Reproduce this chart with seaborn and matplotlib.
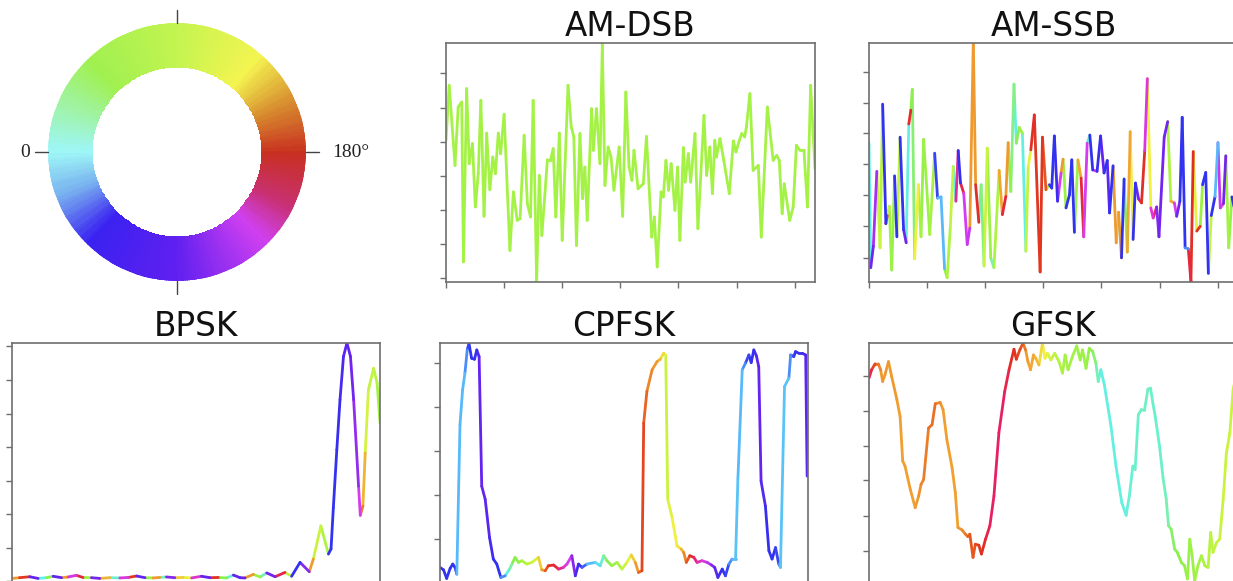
import numpy as np
import pandas as pd
import matplotlib
matplotlib.use("Agg")
import matplotlib.pyplot as plt
import seaborn as sns
from matplotlib.colors import LinearSegmentedColormap

# amplitude, 0 = bottom of panel, 100 = top; t = sample index (0..127)
# phase = colour of the segment leaving each point, in degrees on the wheel

AM_DSB_T = [0, 1.1, 3.1, 4.2, 5.4, 6, 7.1, 8, 9.1, 10.1, 11.1, 12, 13.1, 14, 15.1, 16.1, 17, 18, 18.8, 20,
            22, 23.2, 24.5, 25.5, 26.9, 28, 29.1, 30, 31.2, 32.1, 33, 34.9, 36, 36.9, 37.8, 39, 40, 42, 43.1, 44,
            44.9, 46.1, 47, 47.8, 48.6, 50.1, 50.7, 51.8, 53, 53.8, 54.7, 55.8, 56.8, 57.8, 59.6, 60.8, 61.9, 63, 64, 64.7,
            66.1, 67.9, 69, 70.8, 71.7, 72.7, 74, 74.8, 75.7, 76.6, 77.5, 78.8, 79.7, 80.5, 81.7, 82.3, 83.4, 84.2, 85.7, 86.7,
            88.8, 89.7, 90.8, 91.7, 92.5, 93.1, 94.3, 95.6, 97.5, 98.9, 99.8, 100.9, 101.8, 102.8, 103.4, 104.6, 105.7, 107.5, 108.5, 110.6,
            112.6, 113.8, 114.7, 115.7, 116.4, 118.3, 119.5, 120.6, 121.8, 123.2, 124.4, 125.5, 127]
AM_DSB_AMP = [59.3, 82.3, 48.8, 73.2, 75.3, 8.4, 80.9, 49.5, 57.9, 31.4, 45.3, 76, 27.5, 62.3, 38.6, 52.3, 45.3, 62.3, 53.7, 70.2,
              13.2, 37.7, 25.8, 26.5, 61.4, 32.8, 27.2, 76, 0, 44.6, 19.5, 51.2, 51.2, 55.8, 27.2, 62.3, 17.4, 82.3, 64.9, 60.7,
              15.3, 62.1, 34.9, 48.1, 25.8, 72.5, 55.1, 72.5, 49.5, 99.7, 40.4, 56.5, 52.3, 38.4, 56.5, 27.5, 79.5, 48.1, 42.5, 55.1,
              39, 41.1, 60.9, 18.8, 27.2, 6.3, 37.7, 35.6, 50.9, 38.4, 49.5, 30, 48.1, 17.4, 56.2, 41.8, 53.7, 41.8, 62.1, 22.3,
              69.7, 44.6, 56.5, 37, 59.3, 52.3, 60, 50.9, 37, 59, 54.4, 59, 62.1, 60.7, 64.9, 78.8, 46.7, 48.8, 18.8, 73.2,
              50.9, 53, 50.9, 28.6, 41.1, 25.8, 31.4, 57.2, 55.1, 55.1, 31.4, 82.3, 47.4]
AM_DSB_PHASE = 74

AM_SSB_T = [0, 0.6, 1.5, 2.7, 3.8, 4.7, 5.8, 6.3, 7.0, 7.8, 8.8, 9.6, 10.7, 11.9, 12.8, 13.7, 14.4, 14.9, 15.7, 17.0,
            17.9, 18.8, 20.9, 22.6, 23.6, 24.8, 26.0, 26.9, 28.0, 29.0, 29.9, 30.7, 31.5, 32.6, 33.8, 34.7, 35.9, 36.7, 37.8, 38.6,
            39.6, 40.7, 41.9, 43.0, 44.8, 45.9, 47.1, 47.9, 48.8, 49.9, 50.7, 51.7, 52.8, 54.0, 54.8, 55.7, 56.9, 58.9, 59.7, 60.9,
            62.1, 62.9, 63.8, 64.9, 66.1, 66.8, 67.8, 69.0, 69.8, 70.7, 71.9, 73.0, 73.9, 75.1, 76.0, 77.0, 78.5, 79.7, 80.9, 82.0,
            82.8, 84.0, 85.1, 85.9, 86.9, 87.8, 88.9, 89.9, 90.9, 91.7, 92.8, 93.8, 94.9, 95.8, 97.0, 97.8, 99.0, 99.8, 101.6, 102.8,
            103.9, 105.1, 105.9, 107.0, 107.8, 108.8, 109.9, 110.8, 111.6, 112.8, 114.0, 114.8, 115.9, 116.8, 117.8, 119.1, 120.1, 120.9, 122.0, 122.8,
            123.8, 124.9, 125.8, 127]
AM_SSB_AMP = [58.1, 6.0, 15.0, 46.3, 14.3, 74.4, 24.4, 27.8, 31.7, 5.0, 44.4, 18.9, 60.6, 21.9, 16.4, 66.1, 71.9, 80.6, 9.7, 40.7,
              18.9, 59.7, 19.9, 53.9, 35.1, 35.6, 5.6, 1.8, 23.3, 48.3, 33.8, 55.0, 41.4, 37.2, 15.7, 22.6, 101, 40.7, 25.0, 40.7,
              6.7, 56.0, 10.1, 6.0, 46.7, 28.2, 35.8, 58.3, 37.9, 82.8, 58.1, 64.7, 62.2, 12.9, 48.3, 55.3, 69.9, 4.2, 60.6, 38.6,
              40.7, 39.3, 61.1, 33.8, 45.6, 51.4, 31.0, 36.5, 51.1, 20.8, 51.1, 43.5, 18.9, 58.1, 61.5, 46.9, 46.3, 61.1, 45.6, 50.8,
              28.9, 48.6, 16.4, 29.2, 10.1, 43.1, 12.5, 62.9, 17.8, 41.4, 34.7, 33.1, 55.0, 85.1, 31.0, 26.8, 31.4, 18.9, 60.6, 67.1,
              33.8, 33.1, 27.5, 33.8, 68.9, 14.3, 13.9, 0, 54.6, 21.3, 23.3, 40.7, 45.8, 3.6, 27.8, 35.8, 58.3, 31.0, 32.8, 52.8,
              14.3, 35.6, 30.6, 45]
AM_SSB_PHASE = [0, 265, 250, 95, 85, 300, 180, 90, 70, 65, 300, 90, 300, 265, 5, 185, 60, 45, 115, 75,
                65, 70, 75, 305, 330, 330, 60, 80, 90, 5, 215, 295, 195, 235, 240, 150, 150, 185, 10, 45,
                95, 70, 20, 80, 145, 190, 150, 65, 40, 5, 55, 70, 5, 90, 110, 185, 180, 180, 170, 75,
                300, 300, 295, 235, 150, 70, 300, 300, 300, 70, 145, 190, 235, 10, 300, 240, 295, 270, 300, 275,
                300, 150, 5, 150, 300, 55, 145, 115, 300, 265, 185, 185, 230, 115, 230, 205, 260, 265, 265, 80,
                145, 235, 265, 300, 300, 320, 190, 185, 110, 180, 70, 300, 300, 90, 300, 330, 240, 230, 265, 75,
                65, 300, 70, 70]

BPSK_T = [0, 2.6, 6.1, 9.0, 11.9, 14.2, 17.1, 19.4, 22.2, 24.5, 27.4, 30.3, 33.8, 37.2, 40.1, 43.0, 45.9, 48.7, 51.0, 53.3,
          56.2, 59.1, 62.0, 65.4, 68.3, 71.2, 74.1, 76.4, 78.7, 80.4, 83.3, 85.6, 87.9, 90.8, 94.2, 96.5, 99.4, 102.6, 104.0, 106.6,
          109.2, 110.1, 110.9, 112.1, 113.2, 114.4, 115.6, 116.8, 117.9, 119.6, 120.2, 121.1, 121.9, 123.0, 124.8, 126.0, 127]
BPSK_AMP = [1.5, 1.8, 2.2, 1.5, 1.8, 2.4, 1.8, 2.1, 2.8, 1.9, 1.8, 1.5, 1.8, 1.7, 1.9, 2.5, 1.8, 1.7, 1.9, 2.1,
            1.8, 1.9, 1.7, 2.4, 1.8, 1.9, 1.7, 2.9, 1.8, 1.7, 3.2, 2.1, 3.8, 2.2, 4.0, 2.4, 8.2, 4.3, 9.6, 23.5,
            11.7, 13.8, 31.1, 55.4, 76.3, 94.4, 100, 94.4, 76.3, 40.1, 27.9, 31.8, 54.0, 80.4, 89.4, 83.2, 66.5]
BPSK_PHASE = [150, 180, 270, 0, 60, 270, 150, 230, 190, 70, 265, 140, 10, 230, 180, 270, 70, 150, 20, 260,
              130, 110, 225, 270, 185, 60, 10, 270, 270, 150, 70, 20, 265, 195, 90, 300, 260, 150, 95, 80,
              300, 300, 300, 295, 285, 275, 270, 265, 255, 235, 160, 140, 100, 90, 85, 75, 75]

CPFSK_T = [0, 1.2, 2.3, 3.5, 4.4, 5.2, 5.8, 6.9, 7.8, 8.6, 9.4, 10.0, 10.9, 11.9, 12.7, 13.5, 14.4, 15.6, 17.1, 18.4,
           19.6, 21.0, 22.5, 24.0, 25.1, 25.9, 27.1, 28.2, 30.0, 31.7, 34.0, 35.1, 36.3, 37.4, 39.2, 40.9, 42.6, 43.8, 45.5, 46.7,
           47.8, 49.0, 50.7, 53.6, 55.3, 56.5, 57.6, 59.3, 61.1, 62.8, 64.5, 66.0, 67.4, 68.5, 69.7, 70.3, 71.4, 73.2, 74.9, 76.0,
           77.2, 77.9, 78.6, 80.1, 81.8, 83.2, 84.1, 85.0, 86.2, 87.6, 88.7, 90.4, 92.2, 93.7, 94.8, 95.9, 97.4, 98.5, 99.7, 100.8,
           102.0, 102.8, 104.3, 105.4, 106.6, 107.4, 108.3, 109.2, 110.0, 110.8, 112.3, 113.5, 114.6, 115.8, 116.9, 117.5, 118.9, 120.4, 121.0, 122.1,
           122.7, 123.8, 125.0, 126.2, 126.7]
CPFSK_AMP = [6.1, 5.1, 1.5, 5.7, 7.5, 6.1, 3.3, 65.8, 80.4, 87.4, 97.1, 99.9, 93.6, 93.2, 97.1, 94.3, 40.1, 34.6, 18.6, 9.6,
             7.5, 1.9, 2.6, 5.4, 8.2, 10.3, 8.2, 8.9, 7.5, 8.2, 10.3, 5.1, 4.7, 6.8, 7.1, 5.4, 6.1, 7.5, 11.0, 2.6,
             7.5, 6.1, 7.5, 8.2, 6.8, 11.0, 8.9, 6.8, 8.2, 5.4, 8.2, 11.3, 8.2, 4.0, 4.7, 66.5, 79.7, 88.8, 92.2, 93.2,
             95.7, 95.0, 34.6, 26.9, 15.1, 13.8, 12.4, 8.2, 11.0, 10.3, 8.2, 8.9, 8.2, 7.1, 6.1, 1.9, 5.4, 2.6, 7.5, 9.6,
             9.6, 42.9, 88.8, 91.5, 95.0, 91.8, 97.1, 94.6, 90.1, 42.2, 31.8, 13.1, 9.6, 14.4, 7.5, 6.1, 81.8, 85.3, 95.0, 94.3,
             96.4, 95.7, 95.7, 95.0, 44.3]
CPFSK_PHASE = [300, 300, 300, 300, 300, 300, 330, 330, 330, 320, 305, 300, 300, 295, 285, 270, 270, 275, 290, 300,
               300, 320, 0, 30, 60, 60, 70, 80, 90, 100, 130, 150, 170, 185, 190, 210, 225, 235, 260, 285,
               295, 310, 330, 350, 10, 40, 60, 70, 80, 95, 110, 130, 150, 165, 175, 165, 155, 150, 140, 125,
               110, 95, 105, 115, 120, 140, 155, 170, 185, 205, 220, 230, 245, 260, 275, 290, 300, 305, 320, 330,
               335, 330, 320, 305, 300, 295, 285, 275, 270, 280, 295, 300, 300, 305, 320, 335, 335, 320, 305, 300,
               295, 290, 285, 275, 275]

GFSK_T = [0, 0.9, 2.1, 3.2, 4.0, 4.7, 5.5, 6.7, 7.8, 9.6, 10.7, 11.6, 12.4, 14.2, 15.9, 17.1, 17.9, 18.8, 20.5, 21.7,
          22.8, 24.5, 25.5, 26.8, 28.6, 29.7, 30.6, 32.0, 33.2, 34.0, 34.7, 35.8, 36.6, 37.8, 38.7, 40.1, 41.6, 43.0, 44.7, 46.7,
          48.2, 49.9, 50.7, 52.0, 53.0, 53.9, 54.7, 55.6, 56.6, 57.4, 58.5, 59.7, 60.6, 61.4, 62.6, 63.9, 65.4, 66.6, 67.5, 68.5,
          70.0, 71.5, 72.7, 73.5, 74.7, 75.8, 77.0, 78.1, 78.9, 79.8, 81.0, 83.3, 85.0, 87.0, 88.5, 89.6, 90.8, 91.6, 92.7, 93.7,
          94.8, 96.0, 96.9, 97.7, 98.5, 100.0, 101.2, 102.3, 103.1, 104.0, 105.2, 106.1, 107.5, 108.6, 109.6, 110.4, 111.2, 112.1, 113.2, 114.4,
          115.6, 116.7, 117.6, 118.4, 119.6, 120.7, 121.9, 123.0, 124.2, 125.3, 127.5]
GFSK_AMP = [85.3, 88.8, 91.3, 91.3, 88.8, 83.9, 86.7, 92.2, 86.0, 76.3, 69.3, 50.6, 48.5, 38.8, 31.1, 36.0, 40.8, 42.9, 64.4, 65.8,
            74.6, 75.1, 72.1, 59.6, 47.8, 37.4, 22.8, 21.8, 20.0, 19.0, 20.0, 10.3, 15.8, 15.4, 11.7, 17.9, 23.5, 36.0, 62.4, 79.7,
            88.8, 97.4, 93.2, 97.4, 99.9, 97.1, 92.2, 88.8, 95.0, 93.6, 90.8, 99.9, 93.6, 95.7, 92.9, 95.7, 92.2, 87.4, 95.0, 88.8,
            94.3, 98.8, 92.9, 97.1, 89.4, 97.8, 96.4, 91.5, 83.9, 88.8, 82.5, 65.1, 48.5, 33.2, 27.9, 36.0, 48.5, 47.1, 70.0, 72.1,
            71.8, 80.7, 81.1, 74.9, 69.3, 56.8, 43.6, 34.6, 23.5, 22.1, 13.8, 12.4, 8.2, 6.8, 1.3, 17.9, 11.0, 0.6, 6.8, 11.0,
            6.8, 6.1, 20.7, 12.4, 16.5, 17.9, 34.6, 54.0, 62.4, 80.4, 94.3]
GFSK_PHASE = [195, 175, 160, 155, 150, 150, 150, 150, 150, 148, 148, 148, 148, 148, 150, 152, 155, 158, 162, 162,
              155, 150, 148, 148, 148, 148, 150, 155, 160, 165, 170, 170, 175, 180, 185, 195, 200, 200, 200, 195,
              185, 180, 175, 170, 160, 150, 145, 145, 140, 135, 125, 115, 110, 100, 90, 85, 80, 75, 75, 75,
              72, 70, 70, 70, 65, 60, 45, 20, 5, 5, 5, 5, 5, 5, 8, 10, 12, 14, 15, 16,
              16, 15, 14, 12, 12, 14, 18, 25, 40, 50, 55, 60, 62, 65, 68, 70, 70, 72, 75, 78,
              80, 85, 88, 90, 92, 95, 95, 95, 95, 95, 95]

# phase -> colour for the traces
LINE_STOPS = [0, 30, 60, 85, 115, 148, 168, 183, 200, 235, 268, 300, 330, 360]
LINE_COLORS = ["#5ef0ea", "#80f0a0", "#8cf04a", "#b8f440", "#f0f040", "#f0a030", "#e85a20",
               "#e03020", "#e82060", "#d83cf0", "#6a22f0", "#3030f0", "#58b8fa", "#5ef0ea"]
# phase -> colour for the key wheel (paler, as printed)
WHEEL_STOPS = [0, 45, 90, 130, 155, 180, 205, 225, 270, 315, 340, 360]
WHEEL_COLORS = ["#9ef6f6", "#a0f050", "#c4f450", "#f4f450", "#d89030", "#c83020",
                "#c83070", "#d040f0", "#6020f0", "#3a22f0", "#78b0f0", "#9ef6f6"]

line_cmap = LinearSegmentedColormap.from_list(
    "phase", list(zip(np.array(LINE_STOPS) / 360.0, LINE_COLORS)))
wheel_cmap = LinearSegmentedColormap.from_list(
    "wheel", list(zip(np.array(WHEEL_STOPS) / 360.0, WHEEL_COLORS)))

sns.set_style("white")
plt.rcParams["font.family"] = ["DejaVu Sans"]

SPINE = "#6e6e6e"
W, H = 1233, 581


def px_rect(left, top, width, height):
    return [left / W, 1 - (top + height) / H, width / W, height / H]


def to_segments(ts, amps, phases):
    rows = []
    for i in range(len(ts) - 1):
        rows.append((i, ts[i], amps[i], phases[i]))
        rows.append((i, ts[i + 1], amps[i + 1], phases[i]))
    return pd.DataFrame(rows, columns=["seg", "t", "amp", "phase"])


def draw_panel(fig, rect, title, ts, amps, phases, yticks):
    ax = fig.add_axes(rect)
    df = to_segments(ts, amps, phases)
    sns.lineplot(data=df, x="t", y="amp", hue="phase", units="seg", estimator=None,
                 palette=line_cmap, hue_norm=(0, 360), legend=False, sort=False,
                 linewidth=2.0, solid_capstyle="round", ax=ax)
    ax.set_xlim(0, 127)
    ax.set_ylim(0, 100)
    ax.set_xticks(range(0, 127, 20))
    ax.set_yticks(yticks)
    ax.set_xticklabels([])
    ax.set_yticklabels([])
    ax.set_xlabel("")
    ax.set_ylabel("")
    for sp in ax.spines.values():
        sp.set_color(SPINE)
        sp.set_linewidth(1.2)
    ax.tick_params(direction="out", length=4, width=1, color=SPINE,
                   bottom=True, left=True)
    ax.set_title(title, fontsize=23.5, pad=4.5, color="#111111")
    return ax


fig = plt.figure(figsize=(W / 100, H / 100), dpi=100)

draw_panel(fig, px_rect(446, 43, 369, 239), "AM-DSB", AM_DSB_T, AM_DSB_AMP,
           [AM_DSB_PHASE] * len(AM_DSB_T), [1.7, 15.9, 30.1, 44.4, 58.6, 72.8, 87.4])
draw_panel(fig, px_rect(869, 43, 369, 239), "AM-SSB", AM_SSB_T, AM_SSB_AMP, AM_SSB_PHASE,
           [10.1, 23.3, 36.2, 49.2, 62.2, 75.0, 88.0])
draw_panel(fig, px_rect(12, 343, 368, 239), "BPSK", BPSK_T, BPSK_AMP, BPSK_PHASE,
           [0.5, 14.4, 28.3, 42.2, 56.5, 70.4, 84.6, 98.8])
draw_panel(fig, px_rect(440, 343, 368, 239), "CPFSK", CPFSK_T, CPFSK_AMP, CPFSK_PHASE,
           [17.9, 36.3, 54.7, 73.2, 91.5])
draw_panel(fig, px_rect(869, 343, 369, 239), "GFSK", GFSK_T, GFSK_AMP, GFSK_PHASE,
           [12.8, 27.6, 42.5, 57.1, 71.7, 86.3])

# phase wheel: 0 on the left, 180 on the right
wax = fig.add_axes(px_rect(48, 23, 258, 258), projection="polar")
theta = np.linspace(0, 2 * np.pi, 361)
radius = np.array([0.655, 1.0])
TH, RR = np.meshgrid(theta, radius)
mid = (theta[:-1] + theta[1:]) / 2
wheel_phase = (180 - np.degrees(mid)) % 360
wax.pcolormesh(TH, RR, wheel_phase[np.newaxis, :], cmap=wheel_cmap, vmin=0, vmax=360,
               shading="flat", edgecolor="face", linewidth=0)
wax.set_ylim(0, 1)
wax.set_axis_off()
for ang in [0, 0.5 * np.pi, np.pi, 1.5 * np.pi]:
    wax.plot([ang, ang], [1.0, 1.1], color="#444444", lw=1.0, clip_on=False)
wax.text(np.pi, 1.18, "0", ha="center", va="center", fontsize=14,
         family=["Liberation Serif", "DejaVu Serif"], color="#222222", clip_on=False)
wax.text(0, 1.2, "180°", ha="left", va="center", fontsize=14,
         family=["Liberation Serif", "DejaVu Serif"], color="#222222", clip_on=False)

fig.savefig("out.png", dpi=100)
